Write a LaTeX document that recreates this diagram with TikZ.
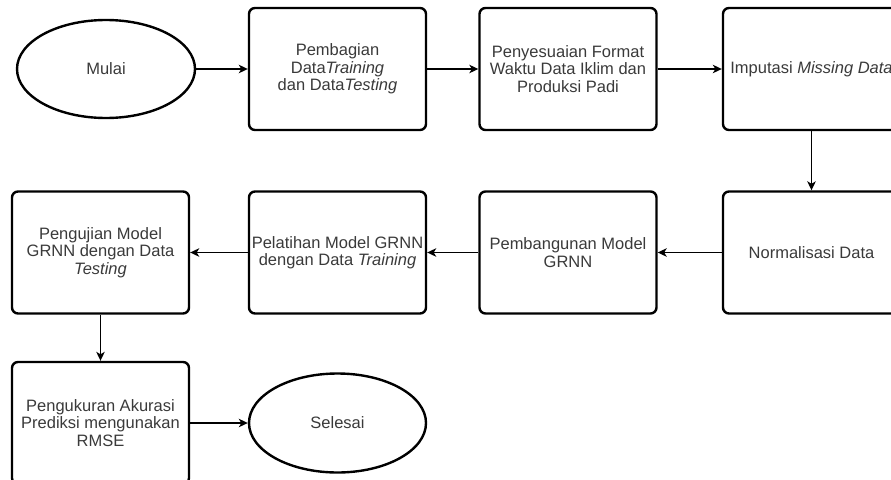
\documentclass[tikz,border=0pt]{standalone}
\usepackage{fontspec}
\setmainfont{Liberation Sans}
\usetikzlibrary{shapes.geometric,arrows.meta}
\definecolor{txt}{HTML}{3A3A3A}
\begin{document}
\begin{tikzpicture}[x=1pt,y=-1pt,
  lbl/.style={align=center, text=txt, font=\fontsize{16.5}{17.5}\selectfont},
  procbox/.style={lbl, draw=black, line width=2.4pt, rounded corners=6pt, minimum width=177pt, minimum height=122pt, inner sep=0pt},
  termnode/.style={lbl, draw=black, ellipse, line width=2.4pt, minimum width=178pt, minimum height=98pt, inner sep=0pt},
  flow/.style={-{Stealth[length=9pt,width=8.5pt,inset=2.5pt]}, line width=1.3pt}]
\useasboundingbox (0,0) rectangle (891,479);
\node[termnode] (mulai) at (106,69) {Mulai};
\node[procbox] (b1) at (337.5,69) {Pembagian\\Data\textit{Training}\\dan Data\textit{Testing}};
\node[procbox] (b2) at (568,69) {Penyesuaian Format\\Waktu Data Iklim dan\\Produksi Padi};
\node[procbox] (b3) at (811.5,69) {Imputasi \textit{Missing Data}};
\node[procbox] (b4) at (811.5,252.5) {Normalisasi Data};
\node[procbox] (b5) at (568,252.5) {Pembangunan Model\\GRNN};
\node[procbox] (b6) at (337.5,252.5) {Pelatihan Model GRNN\\dengan Data \textit{Training}};
\node[procbox] (b7) at (100.5,252.5) {Pengujian Model\\GRNN dengan Data\\\textit{Testing}};
\node[procbox] (b8) at (100.5,423) {Pengukuran Akurasi\\Prediksi mengunakan\\RMSE};
\node[termnode, minimum width=177pt, minimum height=99pt] (selesai) at (337.5,423) {Selesai};
\draw[flow] (mulai) -- (b1);
\draw[flow] (b1) -- (b2);
\draw[flow] (b2) -- (b3);
\draw[flow] (b3) -- (b4);
\draw[flow] (b4) -- (b5);
\draw[flow] (b5) -- (b6);
\draw[flow] (b6) -- (b7);
\draw[flow] (b7) -- (b8);
\draw[flow] (b8) -- (selesai);
\end{tikzpicture}
\end{document}
